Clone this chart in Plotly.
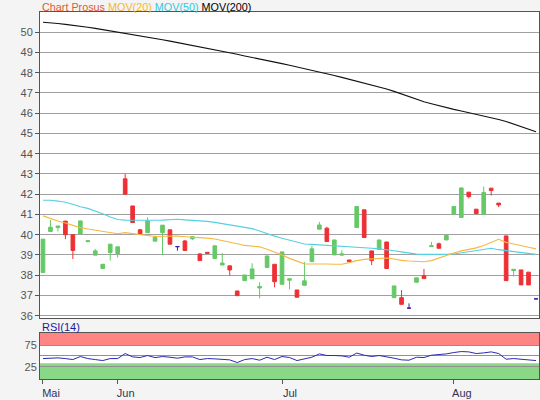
import plotly.graph_objects as go

# ---------------- data ----------------
open_ = [38.13, 40.16, 40.35, 40.67, 40.00, 40.04, 39.66, 38.99, 38.33, 39.12,
         39.07, 42.76, 41.42, 40.24, 40.10, 39.68, 40.10, 40.24, 39.41, 39.69,
         39.80, 39.05, 39.13, 38.82, 38.50, 38.46, 37.22, 37.73, 37.82, 37.37,
         38.38, 38.54, 37.55, 37.75, 37.27, 37.50, 38.67, 40.27, 40.32, 39.00,
         38.99, 38.75, 40.35, 41.23, 39.20, 39.27, 39.64, 36.89, 36.89, 36.37,
         37.65, 37.98, 39.41, 39.55, 39.74, 41.01, 40.85, 42.10, 41.26, 41.01,
         42.30, 41.56, 39.94, 38.23, 38.26, 38.15, 36.83]
high = [39.78, 40.73, 40.43, 40.67, 40.00, 40.68, 39.70, 39.30, 38.54, 39.53,
        39.40, 43.00, 41.42, 40.29, 40.86, 39.96, 40.47, 40.24, 39.41, 39.74,
        39.90, 39.08, 39.13, 39.45, 39.10, 38.46, 37.22, 38.01, 38.59, 37.65,
        38.95, 38.54, 39.15, 37.82, 37.27, 38.66, 39.45, 40.63, 40.39, 39.74,
        39.23, 38.75, 41.39, 41.23, 39.20, 39.74, 39.64, 37.47, 37.27, 36.61,
        37.87, 38.31, 39.64, 39.61, 39.96, 41.39, 42.31, 42.10, 41.26, 42.38,
        42.30, 41.56, 39.94, 38.29, 38.26, 38.15, 36.83]
low = [38.13, 40.16, 40.16, 39.78, 38.80, 40.04, 39.62, 38.99, 38.33, 38.72,
       38.87, 42.00, 40.60, 39.99, 40.10, 39.68, 39.00, 39.53, 39.21, 39.22,
       39.73, 38.72, 39.08, 38.82, 38.50, 37.98, 36.99, 37.73, 37.82, 36.86,
       38.38, 37.40, 37.55, 37.30, 36.91, 37.50, 38.67, 40.27, 39.66, 39.00,
       38.99, 38.67, 40.35, 39.86, 38.50, 39.27, 38.33, 36.89, 36.56, 36.37,
       37.65, 37.83, 39.41, 39.33, 39.74, 41.01, 40.85, 41.79, 41.04, 41.01,
       41.93, 41.36, 37.73, 37.93, 37.52, 37.52, 36.83]
close = [39.78, 40.37, 40.43, 40.00, 39.22, 40.68, 39.70, 39.20, 38.54, 39.53,
         39.40, 42.00, 40.60, 40.04, 40.68, 39.87, 40.47, 39.53, 39.41, 39.22,
         39.90, 38.72, 39.08, 39.45, 38.60, 38.26, 36.99, 38.01, 38.31, 37.44,
         38.95, 37.68, 39.15, 37.82, 36.91, 37.72, 39.30, 40.48, 39.66, 39.74,
         39.05, 38.67, 41.39, 39.86, 38.72, 39.74, 38.33, 37.47, 36.56, 36.37,
         37.87, 37.83, 39.45, 39.33, 39.96, 41.39, 42.31, 41.88, 41.04, 42.08,
         42.18, 41.47, 37.73, 38.29, 37.52, 37.52, 36.83]

mov20 = [40.93, 40.80, 40.68, 40.58, 40.46, 40.35, 40.28, 40.22, 40.16, 40.10,
         40.05, 40.10, 40.06, 39.99, 39.95, 39.91, 39.92, 39.94, 39.93, 39.90,
         39.88, 39.87, 39.83, 39.79, 39.72, 39.64, 39.55, 39.47, 39.45, 39.40,
         39.28, 39.15, 39.00, 38.83, 38.68, 38.56, 38.55, 38.56, 38.55, 38.54,
         38.54, 38.62, 38.72, 38.78, 38.80, 38.82, 38.85, 38.80, 38.73, 38.70,
         38.67, 38.66, 38.72, 38.85, 39.00, 39.10, 39.20, 39.27, 39.35, 39.47,
         39.63, 39.77, 39.62, 39.53, 39.45, 39.38, 39.30]
mov50 = [41.70, 41.70, 41.66, 41.60, 41.50, 41.38, 41.30, 41.18, 41.03, 40.87,
         40.75, 40.72, 40.71, 40.71, 40.70, 40.71, 40.72, 40.75, 40.76, 40.73,
         40.71, 40.70, 40.66, 40.61, 40.55, 40.47, 40.41, 40.36, 40.30, 40.18,
         40.04, 39.93, 39.82, 39.72, 39.62, 39.54, 39.52, 39.50, 39.48, 39.46,
         39.44, 39.42, 39.40, 39.37, 39.33, 39.30, 39.27, 39.21, 39.15, 39.09,
         39.04, 39.03, 39.02, 39.02, 39.03, 39.05, 39.10, 39.16, 39.22, 39.28,
         39.33, 39.26, 39.21, 39.16, 39.11, 39.07, 39.03]
mov200 = [50.49, 50.47, 50.43, 50.39, 50.35, 50.30, 50.25, 50.19, 50.13, 50.07,
          50.02, 49.95, 49.88, 49.81, 49.75, 49.69, 49.63, 49.56, 49.49, 49.43,
          49.36, 49.29, 49.22, 49.15, 49.07, 48.99, 48.91, 48.83, 48.76, 48.68,
          48.60, 48.52, 48.45, 48.37, 48.29, 48.21, 48.13, 48.04, 47.95, 47.86,
          47.77, 47.68, 47.59, 47.50, 47.41, 47.31, 47.20, 47.08, 46.95, 46.81,
          46.68, 46.57, 46.47, 46.37, 46.27, 46.19, 46.11, 46.03, 45.95, 45.87,
          45.78, 45.69, 45.59, 45.47, 45.33, 45.21, 45.08]
rsi = [43.8, 45.4, 45.4, 43.8, 41.5, 48.5, 43.8, 41.5, 39.2, 43.8,
       43.8, 55.4, 47.7, 46.2, 50.8, 46.0, 48.5, 46.9, 44.6, 47.7,
       47.7, 41.5, 43.8, 43.1, 42.3, 40.8, 34.6, 41.5, 43.8, 40.0,
       46.9, 41.5, 48.5, 46.2, 39.2, 43.1, 46.9, 54.6, 50.8, 50.8,
       50.0, 46.9, 56.5, 51.5, 48.5, 50.8, 48.5, 44.6, 40.8, 40.0,
       46.9, 46.2, 51.5, 52.3, 54.6, 57.7, 60.0, 59.2, 55.4, 56.9,
       59.2, 55.4, 42.3, 43.8, 42.3, 41.5, 39.2]

tick_pos = [0, 10, 32, 55]
tick_labels = ["Mai", "Jun", "Jul", "Aug"]
price_ticks = [36, 37, 38, 39, 40, 41, 42, 43, 44, 45, 46, 47, 48, 49, 50]
rsi_grid = [25, 50, 75]
rsi_grid_labels = ["25", "", "75"]
rsi_upper = 75
rsi_lower = 33

# ---------------- build ----------------
n = len(close)
x = list(range(n))
is_doji = [o == c for o, c in zip(open_, close)]
normal = [not d for d in is_doji]


def pick(arr, keep):
    return [v if k else None for v, k in zip(arr, keep)]


GREEN = "#66c866"
RED = "#ee3035"
NAVY = "#3a23a5"
FONT = "Arial, Liberation Sans, sans-serif"

fig = go.Figure()

fig.add_trace(go.Candlestick(
    x=x, open=pick(open_, normal), high=pick(high, normal),
    low=pick(low, normal), close=pick(close, normal),
    increasing=dict(line=dict(color=GREEN, width=1), fillcolor=GREEN),
    decreasing=dict(line=dict(color=RED, width=1), fillcolor=RED),
    xaxis="x", yaxis="y", showlegend=False, hoverinfo="skip"))

fig.add_trace(go.Candlestick(
    x=x, open=pick(open_, is_doji), high=pick(high, is_doji),
    low=pick(low, is_doji), close=pick(close, is_doji),
    increasing=dict(line=dict(color=NAVY, width=1), fillcolor=NAVY),
    decreasing=dict(line=dict(color=NAVY, width=1), fillcolor=NAVY),
    xaxis="x", yaxis="y", showlegend=False, hoverinfo="skip"))

fig.add_trace(go.Scatter(x=x, y=mov200, mode="lines",
                         line=dict(color="#111111", width=1.1),
                         xaxis="x", yaxis="y", showlegend=False, hoverinfo="skip"))
fig.add_trace(go.Scatter(x=x, y=mov50, mode="lines",
                         line=dict(color="#55d0e0", width=1.1),
                         xaxis="x", yaxis="y", showlegend=False, hoverinfo="skip"))
fig.add_trace(go.Scatter(x=x, y=mov20, mode="lines",
                         line=dict(color="#f5b840", width=1.1),
                         xaxis="x", yaxis="y", showlegend=False, hoverinfo="skip"))

fig.add_trace(go.Scatter(x=x, y=rsi, mode="lines",
                         line=dict(color="#2a2ab0", width=1),
                         xaxis="x2", yaxis="y2", showlegend=False, hoverinfo="skip"))

xr = [-0.4, n - 1 + 0.4]
rsi_range = [-3.3, 103.3]

shapes = [
    dict(type="rect", xref="x2 domain", yref="y2", x0=0, x1=1,
         y0=rsi_upper, y1=rsi_range[1], fillcolor="#ff8585",
         line=dict(width=0), layer="below"),
    dict(type="rect", xref="x2 domain", yref="y2", x0=0, x1=1,
         y0=rsi_range[0], y1=rsi_lower, fillcolor="#88d888",
         line=dict(width=0), layer="below"),
]

title_html = ('<span style="color:#e0583a">Chart Prosus</span> '
              '<span style="color:#f5b730">MOV(20)</span> '
              '<span style="color:#33c8dc">MOV(50)</span> '
              '<span style="color:#000000">MOV(200)</span>')

fig.update_layout(
    width=540, height=400,
    margin=dict(l=40, r=1, t=12, b=21),
    paper_bgcolor="#f4f4f4", plot_bgcolor="#ffffff",
    font=dict(family=FONT, size=11, color="#555555"),
    showlegend=False,
    shapes=shapes,
    xaxis=dict(domain=[0, 1], anchor="y", range=xr, showticklabels=False,
               ticks="", showgrid=False, zeroline=False,
               showline=True, linecolor="#555555", linewidth=1, mirror=True,
               rangeslider=dict(visible=False)),
    yaxis=dict(domain=[0.1654, 1], anchor="x", range=[35.87, 51.0],
               tickvals=price_ticks, ticks="outside", ticklen=4,
               tickcolor="#555555", showgrid=True, gridcolor="#a0a0a0",
               gridwidth=1, zeroline=False, showline=True,
               linecolor="#555555", linewidth=1, mirror=True,
               tickfont=dict(size=11, color="#555555")),
    xaxis2=dict(domain=[0, 1], anchor="y2", range=xr, tickvals=tick_pos,
                ticktext=tick_labels, ticks="outside", ticklen=4,
                tickcolor="#555555", ticklabelshift=8, showgrid=False,
                zeroline=False, showline=True, linecolor="#555555",
                linewidth=1, mirror=True,
                tickfont=dict(size=11, color="#333355")),
    yaxis2=dict(domain=[0, 0.126], anchor="x2", range=rsi_range,
                tickvals=rsi_grid, ticktext=rsi_grid_labels, ticks="",
                showgrid=True, gridcolor="#909090", gridwidth=1,
                zeroline=False, showline=True, linecolor="#555555",
                linewidth=1, mirror=True,
                tickfont=dict(size=11, color="#555555")),
    annotations=[
        dict(text=title_html, xref="paper", yref="paper", x=0, y=1,
             xanchor="left", yanchor="middle", yshift=5, showarrow=False,
             font=dict(family=FONT, size=10.8)),
        dict(text="RSI(14)", xref="paper", yref="y2 domain", x=0, y=1,
             xanchor="left", yanchor="middle", yshift=6, showarrow=False,
             font=dict(family=FONT, size=11, color="#1a1aa0")),
    ],
)

fig.write_html("out.html", config={"displayModeBar": False},
               post_script="document.body.style.margin='0';")
